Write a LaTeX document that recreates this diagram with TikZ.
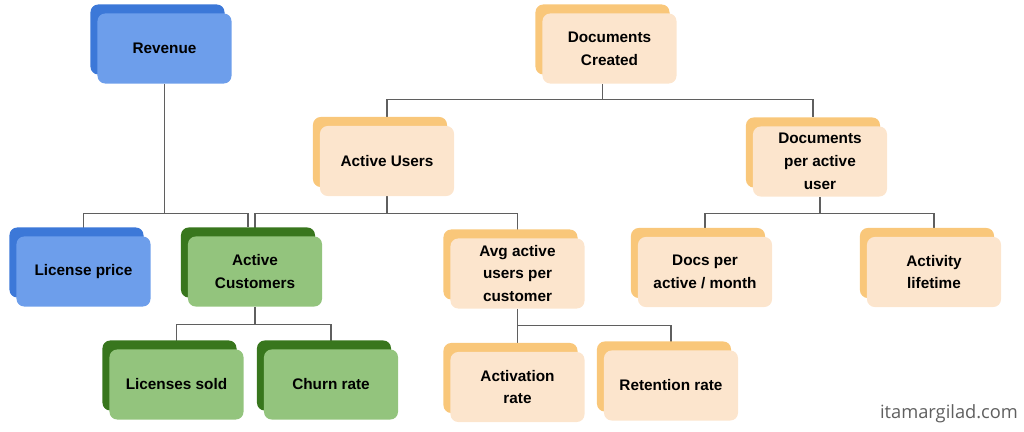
\documentclass[tikz,border=0pt]{standalone}
\usepackage{fontspec}
\setmainfont{Liberation Sans}
\newfontfamily\wmfont{Open Sans}
\usepackage{xcolor}
\usepackage{tikz}
\usetikzlibrary{calc}
\pgfdeclarelayer{background}
\pgfsetlayers{background,main}
\definecolor{blueback}{HTML}{3C78D8}
\definecolor{bluefront}{HTML}{6D9EEB}
\definecolor{greenback}{HTML}{38761D}
\definecolor{greenfront}{HTML}{93C47D}
\definecolor{orangeback}{HTML}{F9C77A}
\definecolor{orangefront}{HTML}{FCE5CD}
\definecolor{linkgray}{HTML}{5F5F5F}
\tikzset{
  card/.style={rectangle, rounded corners=5.5pt, minimum width=3.35cm, minimum height=1.75cm,
    inner sep=0pt, align=center, font=\fontsize{10.9}{16.3}\selectfont\bfseries},
  link/.style={draw=linkgray, line width=1.1pt}
}
\newcommand{\card}[4]{%
  \node[card, fill=#3back] (#1b) at ($(#2)+(-7,-9)$) {};
  \node[card, fill=#3front, text=\ifx#3blue white\else black\fi] (#1) at (#2) {#4};}

\begin{document}
\begin{tikzpicture}[x=0.025cm, y=-0.025cm]
    \useasboundingbox (0,0) rectangle (1024,432);
    \card{rev}{164.5,48.5}{blue}{Revenue}
    \card{lic}{83.5,271.5}{blue}{License price}
    \card{actc}{255,271.5}{green}{Active\\Customers}
    \card{lsold}{176.5,384.5}{green}{Licenses sold}
    \card{churn}{331,384.5}{green}{Churn rate}
    \card{docs}{609.5,48.5}{orange}{Documents\\Created}
    \card{actu}{387,161}{orange}{Active Users}
    \card{dpau}{820,161.5}{orange}{Documents\\per active\\user}
    \card{avg}{517.5,273.5}{orange}{Avg active\\users per\\customer}
    \card{actv}{517.5,387}{orange}{Activation\\rate}
    \card{ret}{671,385.5}{orange}{Retention rate}
    \card{dpm}{705,272}{orange}{Docs per\\active / month}
    \card{life}{934,272}{orange}{Activity\\lifetime}
    \node[text=linkgray, font=\wmfont\fontsize{13}{15}\selectfont] (wm) at (949,414) {itamargilad.com};
    \begin{pgfonlayer}{background}
    \draw[link] (rev.south) -- ++(0,129.5) -| (lic.north);
    \draw[link] (rev.south) -- ++(0,129.5) -| (actcb.north);
    \draw[link] (docsb |- docs.south) -- ++(0,15.5) -| (actu.north);
    \draw[link] (docsb |- docs.south) -- ++(0,15.5) -| (dpaub.north);
    \draw[link] (actu.south) -- ++(0,17) -| (actc.north);
    \draw[link] (actu.south) -- ++(0,17) -| (avg.north);
    \draw[link] (actc.south) -- ++(0,17.5) -| (lsold.north);
    \draw[link] (actc.south) -- ++(0,17.5) -| (churn.north);
    \draw[link] (avg.south) -- ++(0,16.5) -| (actv.north);
    \draw[link] (avg.south) -- ++(0,16.5) -| (ret.north);
    \draw[link] (dpau.south) -- ++(0,16.5) -| (dpm.north);
    \draw[link] (dpau.south) -- ++(0,16.5) -| (life.north);
    \end{pgfonlayer}
\end{tikzpicture}
\end{document}
